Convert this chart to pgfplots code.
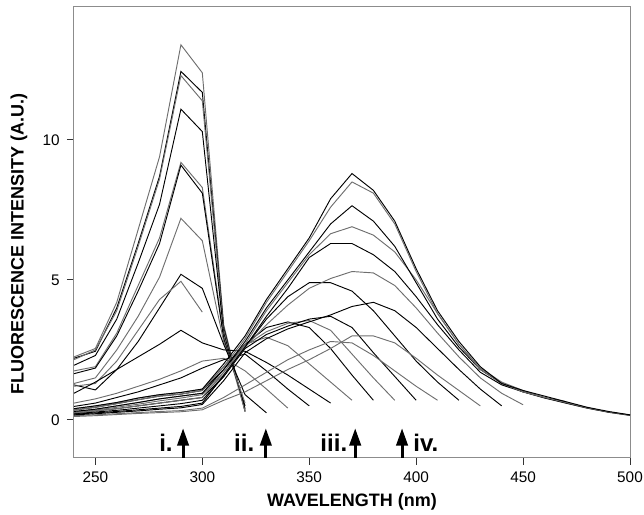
\documentclass[border=0pt]{standalone}
\usepackage{fontspec}
\setmainfont{Liberation Sans}
\usepackage{pgfplots}
\pgfplotsset{compat=1.18}
\usetikzlibrary{arrows.meta}
\definecolor{lg}{HTML}{6E6E6E}
\pgfplotsset{
  kk/.style={black, line width=0.7pt, mark=none},
  gg/.style={lg, line width=0.7pt, mark=none},
}
\begin{document}
\begin{tikzpicture}
\begin{axis}[
  width=417pt, height=338pt, scale only axis,
  xmin=240, xmax=500, ymin=-1.35, ymax=14.75,
  xtick={250,300,350,400,450,500}, ytick={0,5,10},
  tick align=outside, tick pos=left, major tick length=5.25pt,
  axis line style={draw=gray!90, line width=0.75pt},
  every tick/.style={black!80, line width=0.75pt},
  /pgf/number format/assume math mode=true,
  tick label style={font=\fontsize{11.5}{13}\selectfont},
  xticklabel style={yshift=-2pt},
  yticklabel style={xshift=-2pt},
  xlabel={WAVELENGTH (nm)},
  ylabel={FLUORESCENCE INTENSITY (A.U.)},
  label style={font=\fontsize{13.5}{15}\selectfont\bfseries},
  xlabel style={at={(axis description cs:0.5,-0.0976)}, anchor=center},
  ylabel style={at={(axis description cs:-0.0989,0.474)}, anchor=center},
]
% family peaking at 290 nm
\addplot[gg] coordinates {(240,2.25)(250,2.55)(260,4.2)(270,6.8)(280,9.4)(290,13.4)(300,12.4)(310,3.4)(320,0.3)};
\addplot[kk] coordinates {(240,2.2)(250,2.45)(260,4.0)(270,6.3)(280,8.7)(290,12.45)(300,11.7)(310,3.3)(320,0.3)};
\addplot[gg] coordinates {(240,2.15)(250,2.5)(260,3.9)(270,6.2)(280,8.6)(290,12.3)(300,11.4)(310,3.2)(320,0.35)};
\addplot[kk] coordinates {(240,1.95)(250,2.3)(260,3.6)(270,5.6)(280,7.7)(290,11.1)(300,10.3)(310,3.1)(320,0.4)};
\addplot[gg] coordinates {(240,1.75)(250,1.9)(260,3.1)(270,4.8)(280,6.5)(290,9.2)(300,8.3)(310,3.0)(320,0.3)};
\addplot[kk] coordinates {(240,1.65)(250,1.85)(260,3.0)(270,4.6)(280,6.3)(290,9.1)(300,8.1)(310,2.9)(320,0.5)};
\addplot[gg] coordinates {(240,1.3)(250,1.5)(260,2.5)(270,3.7)(280,5.1)(290,7.2)(300,6.4)(310,2.8)(320,0.6)};
\addplot[kk] coordinates {(240,1.25)(250,1.07)(260,1.8)(270,2.8)(280,4.0)(290,5.2)(300,4.7)(310,2.7)(320,0.9)(330,0.25)};
\addplot[gg] coordinates {(240,1.2)(250,1.3)(260,2.1)(270,3.2)(280,4.3)(290,4.95)(300,3.85)};
\addplot[kk] coordinates {(240,0.95)(250,1.35)(260,1.8)(270,2.25)(280,2.7)(290,3.2)(300,2.75)(310,2.5)(320,2.45)(330,2.05)(340,1.6)(350,1.1)(360,0.6)};
% longer-wavelength family
\addplot[gg] coordinates {(240,0.6)(250,0.75)(260,0.95)(270,1.2)(280,1.45)(290,1.75)(300,2.1)(310,2.2)(320,1.75)(330,1.1)(340,0.42)};
\addplot[kk] coordinates {(240,0.48)(250,0.6)(260,0.8)(270,1.0)(280,1.25)(290,1.5)(300,1.85)(310,2.15)(320,2.35)(330,1.75)(340,1.1)(350,0.5)};
\addplot[gg] coordinates {(240,0.4)(250,0.5)(260,0.62)(270,0.78)(280,0.9)(290,0.98)(300,1.1)(310,1.9)(320,2.7)(330,2.95)(340,2.65)(350,2.0)(360,1.35)(370,0.7)};
\addplot[kk] coordinates {(240,0.35)(250,0.45)(260,0.58)(270,0.72)(280,0.85)(290,0.92)(300,1.05)(310,1.8)(320,2.7)(330,3.3)(340,3.5)(350,3.3)(360,2.55)(370,1.6)(380,0.7)};
\addplot[gg] coordinates {(240,0.3)(250,0.38)(260,0.5)(270,0.62)(280,0.75)(290,0.85)(300,0.95)(310,1.7)(320,2.65)(330,3.15)(340,3.45)(350,3.55)(360,3.2)(370,2.35)(380,1.5)(390,0.7)};
\addplot[kk] coordinates {(240,0.25)(250,0.32)(260,0.4)(270,0.5)(280,0.6)(290,0.7)(300,0.8)(310,1.55)(320,2.55)(330,3.05)(340,3.35)(350,3.6)(360,3.7)(370,3.3)(380,2.4)(390,1.55)(400,0.7)};
\addplot[gg] coordinates {(240,0.15)(250,0.18)(260,0.22)(270,0.26)(280,0.3)(290,0.33)(300,0.42)(310,0.8)(320,1.25)(330,1.7)(340,2.15)(350,2.5)(360,2.8)(370,2.75)(380,2.3)(390,1.75)(400,1.2)(410,0.7)};
\addplot[kk] coordinates {(240,0.22)(250,0.28)(260,0.34)(270,0.42)(280,0.5)(290,0.58)(300,0.7)(310,1.55)(320,2.6)(330,3.6)(340,4.4)(350,4.9)(360,4.9)(370,4.6)(380,3.9)(390,3.0)(400,2.1)(410,1.35)(420,0.7)};
\addplot[gg] coordinates {(240,0.12)(250,0.15)(260,0.19)(270,0.23)(280,0.26)(290,0.29)(300,0.36)(310,0.7)(320,1.0)(330,1.4)(340,1.8)(350,2.15)(360,2.55)(370,3.0)(380,3.0)(390,2.75)(400,2.2)(410,1.6)(420,1.05)(430,0.5)};
\addplot[kk] coordinates {(240,0.18)(250,0.22)(260,0.27)(270,0.32)(280,0.38)(290,0.43)(300,0.55)(310,1.4)(320,2.4)(330,2.9)(340,3.25)(350,3.5)(360,3.75)(370,4.05)(380,4.2)(390,3.9)(400,3.3)(410,2.55)(420,1.8)(430,1.1)(440,0.5)};
\addplot[gg] coordinates {(240,0.28)(250,0.35)(260,0.45)(270,0.56)(280,0.68)(290,0.78)(300,0.9)(310,1.6)(320,2.6)(330,3.4)(340,4.1)(350,4.7)(360,5.05)(370,5.3)(380,5.25)(390,4.8)(400,4.0)(410,3.1)(420,2.25)(430,1.5)(440,0.95)(450,0.54)};
\addplot[kk] coordinates {(240,0.2)(250,0.25)(260,0.3)(270,0.36)(280,0.42)(290,0.48)(300,0.6)(310,1.6)(320,2.6)(330,3.7)(340,4.7)(350,5.8)(360,6.3)(370,6.3)(380,5.9)(390,5.3)(400,4.4)(410,3.4)(420,2.5)(430,1.7)(440,1.25)(450,1.0)(460,0.8)(470,0.65)};
\addplot[gg] coordinates {(240,0.25)(250,0.32)(260,0.4)(270,0.5)(280,0.6)(290,0.7)(300,0.8)(310,1.7)(320,2.7)(330,3.9)(340,4.9)(350,5.9)(360,6.65)(370,6.9)(380,6.6)(390,6.0)(400,5.0)(410,3.8)(420,2.7)(430,1.85)(440,1.35)(450,1.05)(460,0.8)(470,0.6)(480,0.42)(490,0.28)(500,0.17)};
\addplot[kk] coordinates {(240,0.3)(250,0.38)(260,0.5)(270,0.62)(280,0.75)(290,0.85)(300,0.95)(310,1.8)(320,2.8)(330,4.0)(340,5.0)(350,6.0)(360,7.0)(370,7.65)(380,7.1)(390,6.2)(400,4.9)(410,3.6)(420,2.6)(430,1.8)(440,1.3)(450,1.0)(460,0.78)(470,0.6)(480,0.42)(490,0.27)(500,0.16)};
\addplot[gg] coordinates {(240,0.35)(250,0.45)(260,0.58)(270,0.72)(280,0.85)(290,0.92)(300,1.05)(310,1.9)(320,2.9)(330,4.2)(340,5.3)(350,6.4)(360,7.6)(370,8.5)(380,8.1)(390,7.0)(400,5.3)(410,3.8)(420,2.7)(430,1.8)(440,1.3)(450,1.0)(460,0.8)(470,0.62)(480,0.43)(490,0.28)(500,0.17)};
\addplot[kk] coordinates {(240,0.4)(250,0.5)(260,0.62)(270,0.78)(280,0.9)(290,0.98)(300,1.1)(310,2.0)(320,3.0)(330,4.3)(340,5.4)(350,6.5)(360,7.9)(370,8.8)(380,8.2)(390,7.1)(400,5.4)(410,3.9)(420,2.8)(430,1.9)(440,1.3)(450,1.05)(460,0.85)(470,0.65)(480,0.45)(490,0.3)(500,0.18)};
% arrows and labels
\draw[line width=2.2pt, -{Triangle[length=13pt,width=8.5pt]}] (axis cs:291,-1.35) -- (axis cs:291,-0.3);
\draw[line width=2.2pt, -{Triangle[length=13pt,width=8.5pt]}] (axis cs:329.7,-1.35) -- (axis cs:329.7,-0.3);
\draw[line width=2.2pt, -{Triangle[length=13pt,width=8.5pt]}] (axis cs:371.5,-1.35) -- (axis cs:371.5,-0.3);
\draw[line width=2.2pt, -{Triangle[length=13pt,width=8.5pt]}] (axis cs:393.4,-1.35) -- (axis cs:393.4,-0.3);
\node[font=\fontsize{18}{20}\selectfont\bfseries, anchor=base] at (axis cs:283,-1.14) {i.};
\node[font=\fontsize{18}{20}\selectfont\bfseries, anchor=base] at (axis cs:319.6,-1.14) {ii.};
\node[font=\fontsize{18}{20}\selectfont\bfseries, anchor=base] at (axis cs:361.5,-1.14) {iii.};
\node[font=\fontsize{18}{20}\selectfont\bfseries, anchor=base] at (axis cs:404.5,-1.14) {iv.};
\coordinate (ll) at (rel axis cs:0,0);
\coordinate (ur) at (rel axis cs:1,1);
\end{axis}
\pgfresetboundingbox
\path[use as bounding box] ([xshift=-55.5pt,yshift=-43pt]ll) rectangle ([xshift=10.5pt,yshift=5.25pt]ur);
\end{tikzpicture}
\end{document}
